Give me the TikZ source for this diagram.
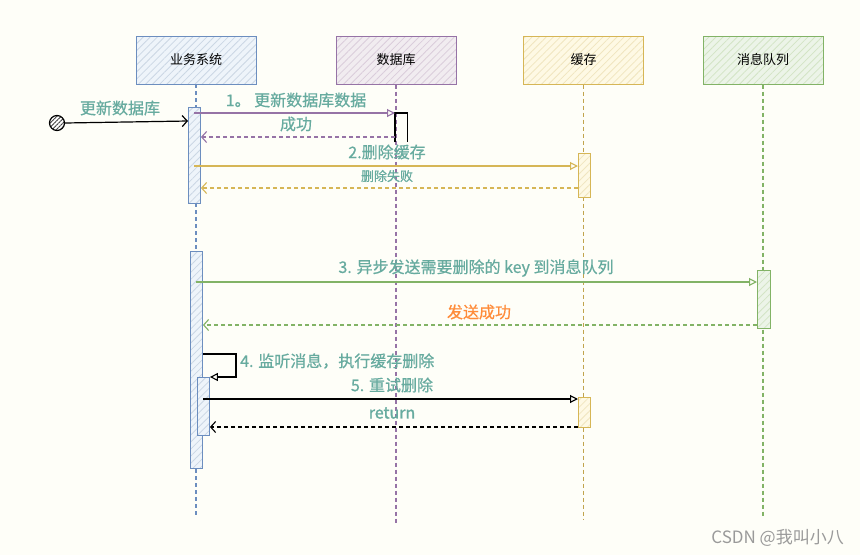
\documentclass[tikz,border=0pt]{standalone}
\usepackage{fontspec}
\newfontfamily\cjk[FakeBold=0.6]{Noto Sans CJK SC}
\newfontfamily\cjkh{Noto Sans CJK SC}
\newfontfamily\cjkb[FakeBold=1.8]{Noto Sans CJK SC}
\usetikzlibrary{arrows.meta,patterns.meta}
\definecolor{bgc}{HTML}{FEFEF8}
\definecolor{cblue}{HTML}{6C8EBF}
\definecolor{fblue}{HTML}{DAE8FC}
\definecolor{cpurp}{HTML}{9673A6}
\definecolor{fpurp}{HTML}{E1D5E7}
\definecolor{cyell}{HTML}{D6B656}
\definecolor{fyell}{HTML}{FFF2CC}
\definecolor{cgreen}{HTML}{82B366}
\definecolor{fgreen}{HTML}{D5E8D4}
\definecolor{ctxt}{HTML}{67AB9F}
\definecolor{corange}{HTML}{FF8C3A}
\definecolor{cwm}{HTML}{9A9A9A}
\tikzset{
  hatched/.style 2 args={preaction={fill=#2!45!bgc}, pattern={Lines[angle=45,distance=5pt,line width=0.8pt]}, pattern color=#1!35!bgc},
  hdr/.style 2 args={draw=#1, line width=1pt, minimum width=120pt, minimum height=48pt, inner sep=0pt,
    font=\cjkh\fontsize{13}{15}\selectfont, hatched={#1}{#2}},
  act/.style 2 args={draw=#1, line width=0.9pt, minimum width=12pt, inner sep=0pt, anchor=north west, hatched={#1}{#2}},
  life/.style={draw=#1, line width=1.3pt, dash pattern=on 4pt off 3pt},
  msg/.style={draw=#1, line width=1.1pt, -{Triangle[open,length=8pt,width=8pt]}},
  ret/.style={draw=#1, line width=1.1pt, dash pattern=on 4pt off 3pt, -{Straight Barb[length=5pt,width=11pt]}},
  lbl/.style={font=\cjk\fontsize{16}{18}\selectfont, text=ctxt, inner sep=1pt},
}
\begin{document}
\begin{tikzpicture}[x=1pt,y=-1pt]
\fill[bgc] (0,0) rectangle (860,555);
\useasboundingbox (0,0) rectangle (860,555);

% lifeline end points
\coordinate (eA) at (196,517);
\coordinate (eB) at (396,525);
\coordinate (eC) at (583.5,520);
\coordinate (eD) at (763,517);

% headers
\node[hdr={cblue}{fblue}] (hA) at (196,60) {业务系统};
\node[hdr={cpurp}{fpurp}] (hB) at (396,60) {数据库};
\node[hdr={cyell}{fyell}] (hC) at (583.5,60) {缓存};
\node[hdr={cgreen}{fgreen}] (hD) at (763,60) {消息队列};

% lifelines
\draw[life=cblue] (hA.south) -- (eA);
\draw[life=cpurp] (hB.south) -- (eB);
\draw[life=cyell!90!black] (hC.south) -- (eC);
\draw[life=cgreen] (hD.south) -- (eD);

% activations
\node[act={cblue}{fblue}, minimum height=96pt] (a1) at (188,107) {};
\node[act={cblue}{fblue}, minimum height=217pt] (a2) at (190,251) {};
\node[act={cblue}{fblue}, minimum height=58pt] (a3) at (197,377) {};
\node[minimum width=12pt, minimum height=29pt, inner sep=0pt, anchor=north west] (dbact) at (395,113) {};
\draw[line width=1.2pt, black] (dbact.south west) -- (dbact.north west) -- (dbact.north east) -- (dbact.south east);
\node[act={cyell}{fyell}, minimum height=44pt] (c1) at (578,153) {};
\node[act={cyell}{fyell}, minimum height=30pt] (c2) at (578,397) {};
\node[act={cgreen}{fgreen}, minimum width=13pt, minimum height=58pt] (d1) at (757,270) {};

% start
\node[circle, draw=black, line width=1.2pt, minimum size=15pt, inner sep=0pt,
      preaction={fill=white}, pattern={Lines[angle=45,distance=3pt,line width=0.9pt]}, pattern color=black!75] (st) at (57,123) {};
\draw[line width=1.2pt, -{Straight Barb[length=5pt,width=11pt]}] (st.east) -- (a1.west |- 0,121);
\node[lbl] (lst) at (120,108) {更新数据库};

% message 1
\draw[msg=cpurp] (a1 |- 0,113) -- (dbact.west |- 0,113);
\node[lbl] (l1) at (296,100) {1。\ 更新数据库数据};
\draw[ret=cpurp] (dbact.west |- 0,137) -- (a1.east |- 0,137);
\node[lbl] (l1r) at (296,124) {成功};

% message 2
\draw[msg=cyell] (a1 |- 0,166) -- (c1.west |- 0,166);
\node[lbl] (l2) at (387,152) {2.删除缓存};
\draw[ret=cyell] (c1.west |- 0,188) -- (a1.east |- 0,188);
\node[lbl, font=\cjk\fontsize{13}{15}\selectfont] (l2r) at (387,176) {删除失败};

% message 3
\draw[msg=cgreen] (a2 |- 0,282) -- (d1.west |- 0,282);
\node[lbl] (l3) at (476,268) {3. 异步发送需要删除的 key 到消息队列};
\draw[ret=cgreen] (d1.west |- 0,325) -- (a2.east |- 0,325);
\node[lbl, text=corange] (l3r) at (479,312) {发送成功};

% message 4 (self call)
\draw[msg=black] (a2.east |- 0,354) -- (236,354) -- (236,377) -- (a3.east |- 0,377);
\node[lbl, anchor=west] (l4) at (239,361) {4. 监听消息，执行缓存删除};

% message 5
\draw[msg=black] (a3 |- 0,399) -- (c2.west |- 0,399);
\node[lbl] (l5) at (392,385) {5. 重试删除};
\draw[ret=black] (c2.west |- 0,427) -- (a3.east |- 0,427);
\node[lbl, font=\cjkb\fontsize{16}{18}\selectfont] (l5r) at (392,413) {return};

% watermark
\node[anchor=east, font=\cjkh\fontsize{17}{19}\selectfont, text=cwm, inner sep=0pt] (wm) at (844,538) {CSDN @我叫小八};
\end{tikzpicture}
\end{document}
